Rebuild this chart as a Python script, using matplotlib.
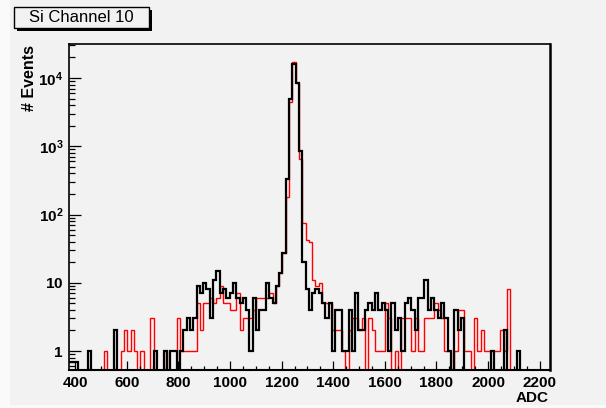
import numpy as np
import matplotlib
matplotlib.use("Agg")
import matplotlib.pyplot as plt
from matplotlib.patches import Rectangle
from matplotlib.ticker import FixedLocator, MultipleLocator, LogLocator, FixedFormatter, NullFormatter

plt.rcParams['font.family'] = ['Liberation Sans', 'DejaVu Sans']
plt.rcParams['mathtext.fontset'] = 'custom'
plt.rcParams['mathtext.rm'] = 'Liberation Sans'
plt.rcParams['mathtext.bf'] = 'Liberation Sans:bold'

# binning (ADC), 146 bins of 12.8
edges = 371.2 + 12.8 * np.arange(147)

# black histogram, counts per bin
black = [0.7, 0.7, 0.7, 0, 0, 0, 1, 0, 0, 0,
         0, 0, 0, 0, 2, 0, 0, 0, 0, 0,
         0, 0, 0, 0, 0, 0, 1, 0, 0, 1,
         0, 1, 1, 0, 1, 2, 3, 2, 3, 9,
         7, 10, 8, 3, 11, 15, 7, 8, 6, 7,
         10, 6, 5, 6, 4, 1, 6, 2, 4, 4,
         10, 6, 5, 9, 14, 27, 335, 4950, 16000, 8500,
         860, 20, 8, 4, 7, 8, 7, 5, 3, 5,
         1, 4, 4, 1, 1, 4, 1, 7, 2, 2,
         4, 5, 4, 7, 4, 5, 4, 1, 5, 2,
         3, 1, 5, 6, 4, 2, 6, 6, 11, 4,
         6, 4, 3, 5, 3, 1, 0, 4, 2, 3,
         0, 0, 0, 0, 0, 0, 0, 0, 1, 0,
         0, 0, 2, 0, 0, 0, 1, 0, 0, 0,
         0, 0, 0, 0, 0, 0]

# red histogram
red = [0, 0, 0, 0, 0, 0, 0, 0, 0, 0,
       0, 1, 0, 0, 0, 0, 1, 2, 1, 2,
       1, 0, 1, 0, 0, 3, 0, 0, 0, 1,
       0, 0, 0, 3, 1, 1, 1, 1, 1, 5,
       2, 5, 5, 6, 5, 6, 9, 5, 5, 4,
       4, 7, 2, 3, 3, 3, 4, 6, 6, 6,
       6, 7, 5, 9, 14, 27, 178, 4500, 17000, 8500,
       660, 74, 42, 40, 11, 9, 10, 5, 5, 5,
       2, 2, 2, 1, 0, 2, 3, 3, 2, 3,
       0, 3, 2, 1, 1, 1, 5, 3, 0, 1,
       0, 3, 3, 3, 1, 3, 1, 1, 3, 3,
       3, 5, 4, 3, 1, 1, 0, 1, 4, 4,
       1, 1, 0, 3, 1, 2, 1, 1, 1, 1,
       1, 2, 1, 8, 0, 0, 0, 0, 0, 0,
       0, 0, 0, 0, 0, 0]

xticks = [400, 600, 800, 1000, 1200, 1400, 1600, 1800, 2000, 2200]
yticks = [1, 10, 100, 1000, 10000]
ylabels = [r'$\mathbf{1}$', r'$\mathbf{10}$', r'$\mathbf{10^{2}}$', r'$\mathbf{10^{3}}$', r'$\mathbf{10^{4}}$']

W, H = 606, 408
bg = '#f2f2f2'
fig = plt.figure(figsize=(W / 100, H / 100), dpi=100, facecolor='#fafafa')
fig.add_artist(Rectangle((10 / W, 3 / H), 1, 1, transform=fig.transFigure,
                         facecolor=bg, edgecolor='none', zorder=-10))

ax = fig.add_axes([69 / W, (H - 370) / H, 481 / W, 326 / H])
ax.set_facecolor(bg)

# zero bins drop to the bottom of the frame
b = np.where(np.array(black) > 0, black, 1e-3)
r = np.where(np.array(red) > 0, red, 1e-3)
ax.stairs(r, edges, baseline=None, color='#ff0000', lw=1.0)
ax.stairs(b, edges, baseline=None, color='black', lw=1.6)

ax.set_yscale('log')
ax.set_xlim(376, 2240)
ax.set_ylim(0.527, 31500)

ax.xaxis.set_major_locator(FixedLocator(xticks))
ax.xaxis.set_minor_locator(MultipleLocator(50))
ax.yaxis.set_major_locator(FixedLocator(yticks))
ax.yaxis.set_major_formatter(FixedFormatter(ylabels))
ax.yaxis.set_minor_locator(LogLocator(base=10, subs=np.arange(2, 10)))
ax.yaxis.set_minor_formatter(NullFormatter())

ax.tick_params(axis='x', which='major', direction='in', length=6.5, width=0.9,
               labelsize=11, pad=4)
ax.tick_params(axis='x', which='minor', direction='in', length=3.2, width=0.9)
ax.tick_params(axis='y', which='major', direction='in', length=8.6, width=0.9,
               labelsize=11, pad=4)
ax.tick_params(axis='y', which='minor', direction='in', length=4.3, width=0.9)
for lab in ax.get_xticklabels():
    lab.set_fontweight('bold')

for s in ax.spines.values():
    s.set_linewidth(1.2)
ax.spines['right'].set_linewidth(1.8)
ax.spines['bottom'].set_linewidth(1.5)

fig.text(30 / W, 1 - 45 / H, '# Events', rotation=90, ha='center', va='top',
         fontsize=11.5, fontweight='bold')
fig.text(549 / W, 1 - 398.5 / H, 'ADC', ha='right', va='center',
         fontsize=11, fontweight='bold')

# title box with shadow
fig.add_artist(Rectangle((17 / W, 1 - 31 / H), 135 / W, 21 / H, transform=fig.transFigure,
                         facecolor='black', edgecolor='none'))
fig.add_artist(Rectangle((14 / W, 1 - 28 / H), 135 / W, 21 / H, transform=fig.transFigure,
                         facecolor=bg, edgecolor='black', lw=1.0))
fig.text(81.5 / W, 1 - 17.5 / H, 'Si Channel 10', ha='center', va='center', fontsize=12)

fig.savefig('out.png', dpi=100, facecolor=fig.get_facecolor())
